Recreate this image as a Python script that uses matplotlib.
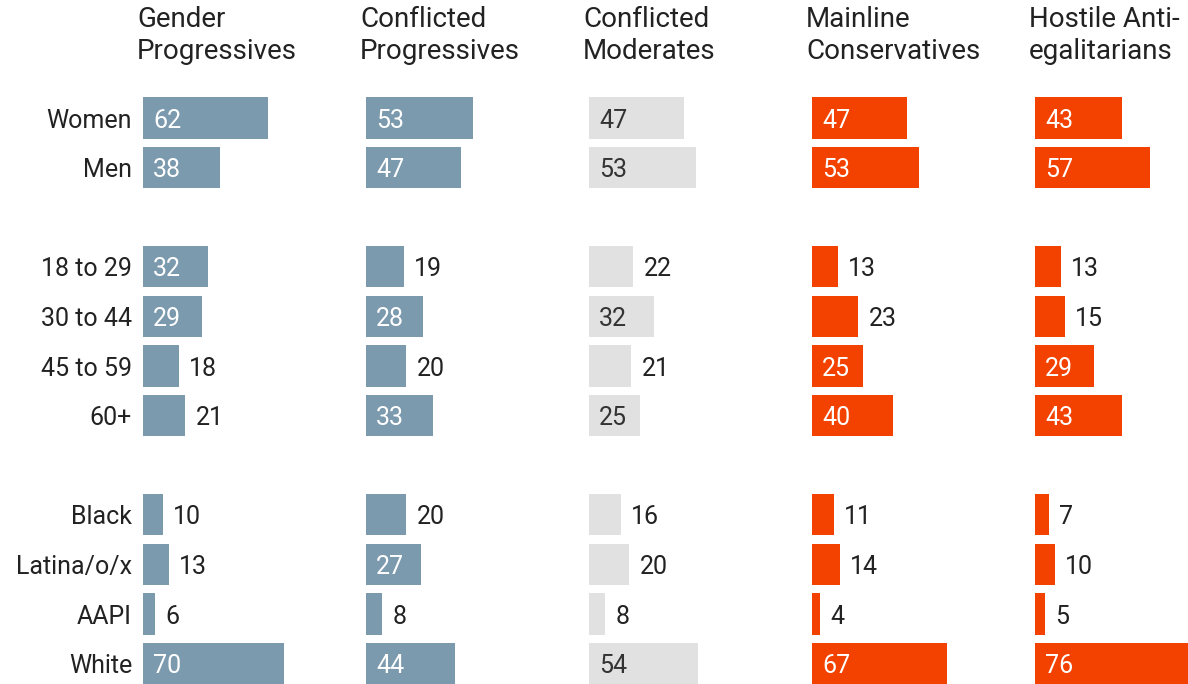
import matplotlib
matplotlib.use("Agg")
import matplotlib.pyplot as plt
from matplotlib.transforms import offset_copy

plt.rcParams['font.family'] = ['Roboto', 'DejaVu Sans']

groups = ["Women", "Men", "18 to 29", "30 to 44", "45 to 59", "60+",
          "Black", "Latina/o/x", "AAPI", "White"]
section_sizes = [2, 4, 4]

panels = ["Gender\nProgressives", "Conflicted\nProgressives", "Conflicted\nModerates",
          "Mainline\nConservatives", "Hostile Anti-\negalitarians"]

gender_progressives = [62, 38, 32, 29, 18, 21, 10, 13, 6, 70]
conflicted_progressives = [53, 47, 19, 28, 20, 33, 20, 27, 8, 44]
conflicted_moderates = [47, 53, 22, 32, 21, 25, 16, 20, 8, 54]
mainline_conservatives = [47, 53, 13, 23, 25, 40, 11, 14, 4, 67]
hostile_anti_egalitarians = [43, 57, 13, 15, 29, 43, 7, 10, 5, 76]

series = [gender_progressives, conflicted_progressives, conflicted_moderates,
          mainline_conservatives, hostile_anti_egalitarians]

BLUE = "#7b9aae"
GRAY = "#e1e1e1"
ORANGE = "#f34100"
DARK = "#222222"
colors = [BLUE, BLUE, GRAY, ORANGE, ORANGE]
inside_colors = ["white", "white", "#333333", "white", "white"]

# row positions with a blank row between sections
positions = []
p = 0
for s in section_sizes:
    for _ in range(s):
        positions.append(p)
        p += 1
    p += 1
nrows = positions[-1] + 1

W, H = 1188, 684
fig = plt.figure(figsize=(W / 100, H / 100), dpi=100)

row_step = 49.6
first_center = 118
px_per_unit = 2.02
xmax = 76
starts = [143, 366, 589, 812, 1035]

top_px = first_center - 0.5 * row_step
bot_px = first_center + (nrows - 0.5) * row_step

FS = 18
for k, (vals, title) in enumerate(zip(series, panels)):
    left = starts[k] / W
    width = xmax * px_per_unit / W
    ax = fig.add_axes([left, (H - bot_px) / H, width, (bot_px - top_px) / H])
    ax.set_xlim(0, xmax)
    ax.set_ylim(nrows - 0.5, -0.5)
    ax.barh(positions, vals, height=0.83, color=colors[k], clip_on=False)
    t = offset_copy(ax.transData, fig=fig, x=10, y=0, units='dots')
    for y, v in zip(positions, vals):
        if v >= 24:
            ax.text(0, y, str(v), transform=t, ha='left', va='center_baseline',
                    fontsize=FS, color=inside_colors[k])
        else:
            ax.text(v, y, str(v), transform=t, ha='left', va='center_baseline',
                    fontsize=FS, color=DARK)
    if k == 0:
        tl = offset_copy(ax.transData, fig=fig, x=-11, y=0, units='dots')
        for y, g in zip(positions, groups):
            ax.text(0, y, g, transform=tl, ha='right', va='center_baseline',
                    fontsize=FS, color=DARK)
    ax.axis('off')
    fig.text((starts[k] - 6) / W, 1 - 6 / H, title, ha='left', va='top',
             fontsize=20, color=DARK, linespacing=1.22)

fig.savefig("out.png", dpi=100)
